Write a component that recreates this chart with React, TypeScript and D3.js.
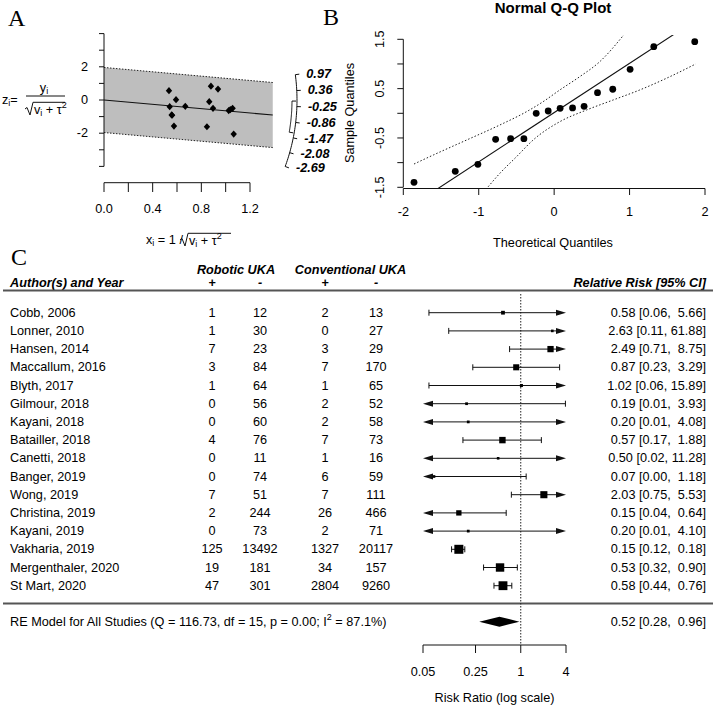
import React from "react";
import * as d3 from "d3";

// ---------- Panel A: radial (Galbraith) plot ----------
const radialX = [0.534, 0.592, 0.540, 0.668, 0.556, 0.560, 0.575, 0.879, 0.937, 0.865, 0.896, 0.846, 1.025, 1.038, 1.057, 1.066];
const radialZ = [0.56, 0.02, -0.40, -0.38, -0.90, -0.92, -1.57, 0.83, 0.66, -0.10, -0.50, -1.61, -0.64, -0.58, -0.50, -2.05];
const radialYTicks = [-4, -3, -2, -1, 0, 1, 2, 3, 4];
const radialYLabels = [-2, 0, 2];
const radialXTicks = [0, 0.2, 0.4, 0.6, 0.8, 1.0, 1.2];
const radialXLabels = [0, 0.4, 0.8, 1.2];
const arcTicks = [0.97, 0.36, -0.25, -0.86, -1.47, -2.08, -2.69];
const radialXMax = 1.387;

// ---------- Panel B: normal Q-Q plot ----------
const qqTheoretical = [-1.858, -1.311, -1.011, -0.776, -0.577, -0.401, -0.238, -0.079, 0.079, 0.244, 0.397, 0.575, 0.777, 1.007, 1.321, 1.864];
const qqSample = [-1.400, -1.176, -1.034, -0.527, -0.515, -0.515, 0.0, 0.047, 0.101, 0.108, 0.142, 0.418, 0.487, 0.892, 1.351, 1.452];
const qqIntercept = 0.014;
const qqSlope = 0.999;
const upperBandX = [-1.858, -1.603, -1.161, -0.720, -0.366, -0.146, 0.075, 0.340, 0.605, 0.923];
const upperBandY = [-1.028, -0.846, -0.542, -0.237, 0.033, 0.236, 0.473, 0.743, 1.047, 1.589];
const lowerBandX = [-0.875, -0.720, -0.499, -0.279, 0.075, 0.429, 0.782, 1.135, 1.489, 1.877];
const lowerBandY = [-1.489, -1.217, -0.880, -0.542, -0.170, 0.067, 0.270, 0.473, 0.710, 1.0];
const qqXTicks = [-2, -1, 0, 1, 2];
const qqYTicks = [-1.5, -1, -0.5, 0, 0.5, 1, 1.5];
const qqYLabels = [-1.5, -0.5, 0.5, 1.5];

// ---------- Panel C: forest plot ----------
const studies = ["Cobb, 2006", "Lonner, 2010", "Hansen, 2014", "Maccallum, 2016", "Blyth, 2017", "Gilmour, 2018", "Kayani, 2018", "Batailler, 2018", "Canetti, 2018", "Banger, 2019", "Wong, 2019", "Christina, 2019", "Kayani, 2019", "Vakharia, 2019", "Mergenthaler, 2020", "St Mart, 2020"];
const roboticPos = [1, 1, 7, 3, 1, 0, 0, 4, 0, 0, 7, 2, 0, 125, 19, 47];
const roboticNeg = [12, 30, 23, 84, 64, 56, 60, 76, 11, 74, 51, 244, 73, 13492, 181, 301];
const conventionalPos = [2, 0, 3, 7, 1, 2, 2, 7, 1, 6, 7, 26, 2, 1327, 34, 2804];
const conventionalNeg = [13, 27, 29, 170, 65, 52, 58, 73, 16, 59, 111, 466, 71, 20117, 157, 9260];
const rr = [0.58, 2.63, 2.49, 0.87, 1.02, 0.19, 0.20, 0.57, 0.50, 0.07, 2.03, 0.15, 0.20, 0.15, 0.53, 0.58];
const ciLower = [0.06, 0.11, 0.71, 0.23, 0.06, 0.01, 0.01, 0.17, 0.02, 0.00, 0.75, 0.04, 0.01, 0.12, 0.32, 0.44];
const ciUpper = [5.66, 61.88, 8.75, 3.29, 15.89, 3.93, 4.08, 1.88, 11.28, 1.18, 5.53, 0.64, 4.10, 0.18, 0.90, 0.76];
const weights = [4.5, 2.9, 7.9, 7.6, 3.5, 3.1, 3.1, 8.1, 2.9, 3.0, 9.0, 6.6, 3.1, 11.6, 10.8, 11.4];
const summaryRR = 0.52;
const summaryLower = 0.28;
const summaryUpper = 0.96;
const hetQ = 116.73;
const hetDf = 15;
const hetP = 0.0;
const hetI2 = 87.1;
const forestTicks = [0.05, 0.25, 1, 4];

const SANS = "'Liberation Sans', Arial, Helvetica, sans-serif";
const SERIF = "'Liberation Serif', 'Times New Roman', serif";
const FS = 12.7;

export default function App() {
  // ---------- Panel A scales ----------
  const xA = d3.scaleLinear().domain([0, 1.2]).range([104, 250]);
  const zA = d3.scaleLinear().domain([-4, 4]).range([166.4, 33.6]);
  const b = Math.log(summaryRR);
  const crit = 1.96;
  const bandPoly = [
    [xA(0), zA(crit)],
    [xA(radialXMax), zA(b * radialXMax + crit)],
    [xA(radialXMax), zA(b * radialXMax - crit)],
    [xA(0), zA(-crit)],
  ];
  const ox = xA(0), oy = zA(0);
  const R = 193;
  const arcPt = (theta: number, r: number) => {
    const dx = xA(1) - ox;
    const dy = zA(theta) - oy;
    const len = Math.hypot(dx, dy);
    return [ox + (dx / len) * r, oy + (dy / len) * r];
  };
  const arcPath = (t0: number, t1: number, r: number) => {
    const n = 40;
    const pts = d3.range(n + 1).map((i) => arcPt(t0 + ((t1 - t0) * i) / n, r) as [number, number]);
    return d3.line()(pts) || "";
  };
  const ciLo = Math.log(summaryLower), ciHi = Math.log(summaryUpper);

  // ---------- Panel B scales ----------
  const xB = d3.scaleLinear().domain([-2, 2]).range([403.3, 705]);
  const yB = d3.scaleLinear().domain([-1.5, 1.5]).range([187.3, 39.3]);
  const bLine = d3.line<number>().x((d) => xB(d)).y((d) => yB(qqIntercept + qqSlope * d));
  const band = d3
    .line<[number, number]>()
    .x((d) => xB(d[0]))
    .y((d) => yB(d[1]))
    .curve(d3.curveMonotoneX);
  const upper = upperBandX.map((x, i) => [x, upperBandY[i]] as [number, number]);
  const lower = lowerBandX.map((x, i) => [x, lowerBandY[i]] as [number, number]);

  // ---------- Panel C scales ----------
  const xF = d3.scaleLog().domain([0.05, 4]).range([423, 566]);
  const yF = d3.scaleLinear().domain([0, studies.length - 1]).range([312.7, 585.7]);
  const boxSize = d3.scaleLinear().domain([d3.min(weights) as number, d3.max(weights) as number]).range([2.6, 9]);
  const colX = [212, 260, 325, 376];
  const ySummary = 621.7;
  const xMinF = 0.05, xMaxF = 4;
  const fmt = (v: number) => v.toFixed(2);
  const ciText = (e: number, lo: number, hi: number) =>
    `${fmt(e).padStart(4)} [${fmt(lo).padStart(4)}, ${fmt(hi).padStart(5)}]`;

  const arrowLeft = (y: number) => {
    const x0 = xF(xMinF);
    return `M${x0},${y} L${x0 + 10},${y - 3} L${x0 + 10},${y + 3} Z`;
  };
  const arrowRight = (y: number) => {
    const x1 = xF(xMaxF);
    return `M${x1},${y} L${x1 - 10},${y - 3} L${x1 - 10},${y + 3} Z`;
  };

  return (
    <svg
      width={716}
      height={705}
      style={{ position: "absolute", left: 0, top: 0, background: "#fff" }}
      fontFamily={SANS}
      fontSize={FS}
    >
      <rect x={0} y={0} width={716} height={705} fill="#fff" />
      {/* Panel labels */}
      <text x={8} y={26} fontFamily={SERIF} fontSize={24}>A</text>
      <text x={323} y={25} fontFamily={SERIF} fontSize={24}>B</text>
      <text x={11} y={265} fontFamily={SERIF} fontSize={24}>C</text>

      {/* ===== Panel A ===== */}
      <polygon points={bandPoly.map((p) => p.join(",")).join(" ")} fill="#bebebe" />
      <line x1={bandPoly[0][0]} y1={bandPoly[0][1]} x2={bandPoly[1][0]} y2={bandPoly[1][1]} stroke="#222" strokeDasharray="1.5 1.5" />
      <line x1={bandPoly[3][0]} y1={bandPoly[3][1]} x2={bandPoly[2][0]} y2={bandPoly[2][1]} stroke="#222" strokeDasharray="1.5 1.5" />
      <line x1={xA(0)} y1={zA(0)} x2={xA(radialXMax)} y2={zA(b * radialXMax)} stroke="#111" strokeWidth={1.1} />
      {/* y axis */}
      <line x1={xA(0)} y1={zA(-4)} x2={xA(0)} y2={zA(4)} stroke="#111" />
      {radialYTicks.map((t) => (
        <line key={t} x1={xA(0) - 5} y1={zA(t)} x2={xA(0)} y2={zA(t)} stroke="#111" />
      ))}
      {radialYLabels.map((t) => (
        <text key={t} x={88} y={zA(t)} textAnchor="end" dominantBaseline="central">{t}</text>
      ))}
      {/* x axis */}
      <line x1={xA(0)} y1={182.7} x2={xA(1.2)} y2={182.7} stroke="#111" />
      {radialXTicks.map((t) => (
        <line key={t} x1={xA(t)} y1={182.7} x2={xA(t)} y2={192} stroke="#111" />
      ))}
      {radialXLabels.map((t) => (
        <text key={t} x={xA(t)} y={209.3} textAnchor="middle" dominantBaseline="central">{t.toFixed(1)}</text>
      ))}
      {/* points */}
      {radialX.map((x, i) => {
        const cx = xA(x), cy = zA(radialZ[i]);
        return <path key={i} d={`M${cx},${cy - 3.6} L${cx + 3.2},${cy} L${cx},${cy + 3.6} L${cx - 3.2},${cy} Z`} fill="#000" />;
      })}
      {/* arc */}
      <path d={arcPath(arcTicks[0], arcTicks[arcTicks.length - 1], R)} fill="none" stroke="#111" />
      {arcTicks.map((t) => {
        const p0 = arcPt(t, R), p1 = arcPt(t, R + 4), pl = arcPt(t, R + 4);
        return (
          <g key={t}>
            <line x1={p0[0]} y1={p0[1]} x2={p1[0]} y2={p1[1]} stroke="#111" />
            <text x={pl[0] + 7} y={pl[1]} dominantBaseline="central" fontWeight="bold" fontStyle="italic">{t.toFixed(2)}</text>
          </g>
        );
      })}
      <path d={arcPath(ciHi, ciLo, R - 5)} fill="none" stroke="#111" />
      {[ciHi, ciLo].map((t, i) => {
        const p0 = arcPt(t, R - 5), p1 = arcPt(t, R - 1);
        return <line key={i} x1={p0[0]} y1={p0[1]} x2={p1[0]} y2={p1[1]} stroke="#111" />;
      })}
      {/* axis titles A */}
      <text x={2} y={100} dominantBaseline="central">z<tspan fontSize={9} dy={3}>i</tspan><tspan dy={-3}>=</tspan></text>
      <text x={44} y={88} textAnchor="middle" dominantBaseline="central">y<tspan fontSize={9} dy={3}>i</tspan></text>
      <line x1={26} y1={96} x2={65} y2={96} stroke="#111" />
      <path d="M25,109 L27,107.5 L30,115 L33,102.3 L65,102.3" fill="none" stroke="#111" />
      <text x={34} y={110} dominantBaseline="central">v<tspan fontSize={9} dy={3}>i</tspan><tspan dy={-3}> + τ</tspan><tspan fontSize={9} dy={-5}>2</tspan></text>
      <text x={146} y={240} dominantBaseline="central">x<tspan fontSize={9} dy={3}>i</tspan><tspan dy={-3}> = 1 /</tspan></text>
      <path d="M180,240 L182,238.5 L185,246 L188,233.3 L231,233.3" fill="none" stroke="#111" />
      <text x={189} y={241} dominantBaseline="central">v<tspan fontSize={9} dy={3}>i</tspan><tspan dy={-3}> + τ</tspan><tspan fontSize={9} dy={-5}>2</tspan></text>

      {/* ===== Panel B ===== */}
      <text x={553} y={7} textAnchor="middle" dominantBaseline="central" fontWeight="bold" fontSize={15}>Normal Q-Q Plot</text>
      <defs>
        <clipPath id="qqclip">
          <rect x={403.3} y={35} width={302} height={153} />
        </clipPath>
      </defs>
      <g clipPath="url(#qqclip)">
        <path d={bLine([-2.1, 2.1]) || ""} fill="none" stroke="#111" strokeWidth={1.1} />
        <path d={band(upper) || ""} fill="none" stroke="#222" strokeDasharray="1.5 2" />
        <path d={band(lower) || ""} fill="none" stroke="#222" strokeDasharray="1.5 2" />
      </g>
      {qqTheoretical.map((x, i) => (
        <circle key={i} cx={xB(x)} cy={yB(qqSample[i])} r={3.4} fill="#000" />
      ))}
      <line x1={xB(-2)} y1={yB(-1.5)} x2={xB(-2)} y2={yB(1.5)} stroke="#111" />
      {qqYTicks.map((t) => (
        <line key={t} x1={xB(-2) - 6} y1={yB(t)} x2={xB(-2)} y2={yB(t)} stroke="#111" />
      ))}
      {qqYLabels.map((t) => (
        <text key={t} transform={`translate(380,${yB(t)}) rotate(-90)`} textAnchor="middle" dominantBaseline="central">{t.toFixed(1)}</text>
      ))}
      <line x1={xB(-2)} y1={188.5} x2={xB(2)} y2={188.5} stroke="#111" />
      {qqXTicks.map((t) => (
        <line key={t} x1={xB(t)} y1={188.5} x2={xB(t)} y2={195} stroke="#111" />
      ))}
      {qqXTicks.map((t) => (
        <text key={t} x={xB(t)} y={211.7} textAnchor="middle" dominantBaseline="central">{t}</text>
      ))}
      <text x={553} y={243} textAnchor="middle" dominantBaseline="central">Theoretical Quantiles</text>
      <text transform="translate(350,113) rotate(-90)" textAnchor="middle" dominantBaseline="central">Sample Quantiles</text>

      {/* ===== Panel C ===== */}
      <g fontWeight="bold" fontStyle="italic">
        <text x={(colX[0] + colX[1]) / 2} y={270} textAnchor="middle" dominantBaseline="central">Robotic UKA</text>
        <text x={(colX[2] + colX[3]) / 2} y={270} textAnchor="middle" dominantBaseline="central">Conventional UKA</text>
        <text x={10} y={282.5} dominantBaseline="central">Author(s) and Year</text>
        {["+", "-", "+", "-"].map((s, i) => (
          <text key={i} x={colX[i]} y={282.5} textAnchor="middle" dominantBaseline="central">{s}</text>
        ))}
        <text x={706} y={282.5} textAnchor="end" dominantBaseline="central">Relative Risk [95% CI]</text>
      </g>
      <line x1={3} y1={290.5} x2={713} y2={290.5} stroke="#555" strokeWidth={2} />
      <line x1={3} y1={603.5} x2={713} y2={603.5} stroke="#555" strokeWidth={2} />
      <line x1={xF(1)} y1={294} x2={xF(1)} y2={645} stroke="#222" strokeDasharray="1.5 1.5" />

      {studies.map((s, i) => {
        const y = yF(i);
        const lo = ciLower[i], hi = ciUpper[i];
        const xl = lo < xMinF ? xF(xMinF) + 10 : xF(lo);
        const xr = hi > xMaxF ? xF(xMaxF) - 10 : xF(hi);
        const sz = boxSize(weights[i]);
        return (
          <g key={s}>
            <text x={10} y={y} dominantBaseline="central">{s}</text>
            {[roboticPos[i], roboticNeg[i], conventionalPos[i], conventionalNeg[i]].map((v, j) => (
              <text key={j} x={colX[j]} y={y} textAnchor="middle" dominantBaseline="central">{v}</text>
            ))}
            <line x1={xl} y1={y} x2={xr} y2={y} stroke="#111" />
            {lo < xMinF ? <path d={arrowLeft(y)} fill="#111" /> : <line x1={xl} y1={y - 3} x2={xl} y2={y + 3} stroke="#111" />}
            {hi > xMaxF ? <path d={arrowRight(y)} fill="#111" /> : <line x1={xr} y1={y - 3} x2={xr} y2={y + 3} stroke="#111" />}
            <rect x={xF(rr[i]) - sz / 2} y={y - sz / 2} width={sz} height={sz} fill="#000" />
            <text x={706} y={y} textAnchor="end" dominantBaseline="central" style={{ whiteSpace: "pre" }}>
              {ciText(rr[i], lo, hi)}
            </text>
          </g>
        );
      })}

      {/* summary */}
      <text x={10} y={ySummary} dominantBaseline="central">
        {`RE Model for All Studies (Q = ${hetQ.toFixed(2)}, df = ${hetDf}, p = ${hetP.toFixed(2)}; I`}
        <tspan fontSize={9} dy={-5}>2</tspan>
        <tspan dy={5}>{` = ${hetI2.toFixed(1)}%)`}</tspan>
      </text>
      <path
        d={`M${xF(summaryLower)},${ySummary} L${xF(summaryRR)},${ySummary - 5} L${xF(summaryUpper)},${ySummary} L${xF(summaryRR)},${ySummary + 5} Z`}
        fill="#000"
      />
      <text x={706} y={ySummary} textAnchor="end" dominantBaseline="central" style={{ whiteSpace: "pre" }}>
        {ciText(summaryRR, summaryLower, summaryUpper)}
      </text>

      {/* forest axis */}
      <line x1={xF(0.05)} y1={645} x2={xF(4)} y2={645} stroke="#111" />
      {forestTicks.map((t) => (
        <g key={t}>
          <line x1={xF(t)} y1={645} x2={xF(t)} y2={653} stroke="#111" />
          <text x={xF(t)} y={672} textAnchor="middle" dominantBaseline="central">{String(t)}</text>
        </g>
      ))}
      <text x={(xF(0.05) + xF(4)) / 2} y={698} textAnchor="middle" dominantBaseline="central">Risk Ratio (log scale)</text>
    </svg>
  );
}
